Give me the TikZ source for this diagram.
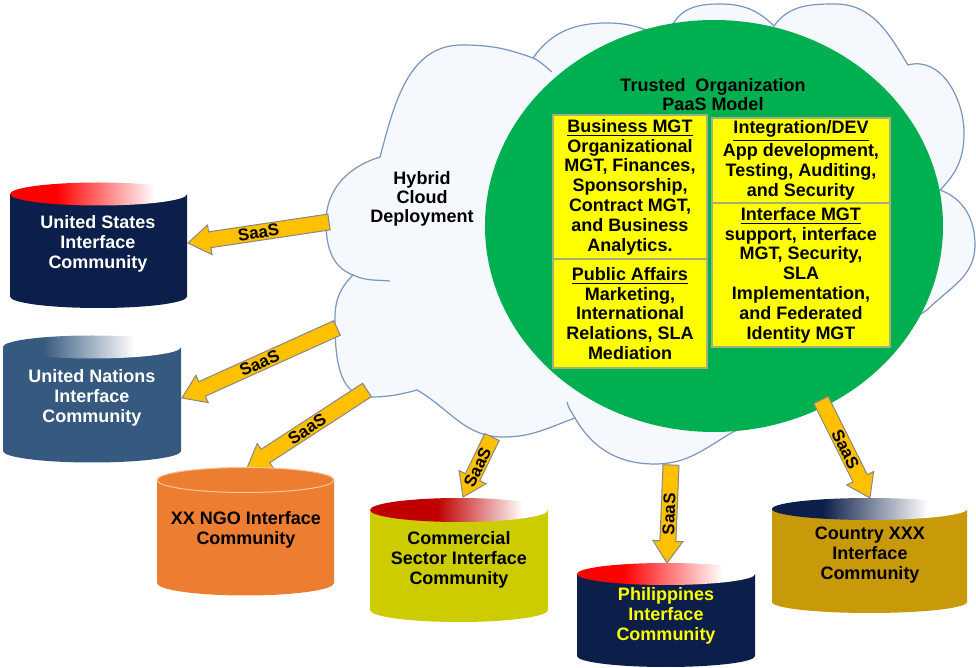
\documentclass[tikz,border=0pt]{standalone}
\usepackage{fontspec}
\setmainfont{Liberation Sans}
\usetikzlibrary{calc}
\definecolor{navyc}{RGB}{12,30,74}
\definecolor{unblue}{RGB}{54,89,127}
\definecolor{ngoor}{RGB}{237,125,49}
\definecolor{ngoedge}{RGB}{248,196,160}
\definecolor{comyel}{RGB}{204,204,0}
\definecolor{goldc}{RGB}{200,154,10}
\definecolor{pgreen}{RGB}{0,176,80}
\definecolor{boxyel}{RGB}{255,255,0}
\definecolor{boxedge}{RGB}{165,175,120}
\definecolor{arrfill}{RGB}{255,192,0}
\definecolor{arredge}{RGB}{135,135,135}
\definecolor{cloudfill}{RGB}{245,248,252}
\definecolor{cloudedge}{RGB}{120,150,190}
\definecolor{topred}{RGB}{255,0,0}
\definecolor{topdark}{RGB}{192,0,0}
\definecolor{philyel}{RGB}{255,255,0}

\pgfdeclarehorizontalshading{shRed}{100bp}{color(0bp)=(topred); color(38bp)=(topred); color(66bp)=(white); color(100bp)=(white)}
\pgfdeclarehorizontalshading{shUN}{100bp}{color(0bp)=(unblue); color(36bp)=(unblue); color(62bp)=(white); color(100bp)=(white)}
\pgfdeclarehorizontalshading{shCom}{100bp}{color(0bp)=(topdark); color(44bp)=(topdark); color(68bp)=(white); color(100bp)=(white)}
\pgfdeclarehorizontalshading{shNavy}{100bp}{color(0bp)=(navyc); color(38bp)=(navyc); color(65bp)=(white); color(100bp)=(white)}

\tikzset{
  lbl/.style={font=\bfseries\fontsize{9}{10}\selectfont, align=center, inner sep=0pt},
  ybox/.style={draw=boxedge, line width=0.6pt, fill=boxyel, inner sep=0pt, align=center,
               font=\bfseries\fontsize{9}{9.9}\selectfont},
  cloudline/.style={draw=cloudedge, line width=0.6pt},
  saasbody/.style={fill=arrfill, draw=arredge, line width=0.5pt, line join=miter},
  saaslbl/.style={font=\bfseries\fontsize{8.5}{9}\selectfont, inner sep=0pt, sloped, pos=0.5}
}

% cylinder: #1 cx, #2 top y, #3 bottom y, #4 x radius, #5 y radius, #6 body colour, #7 top options
\newcommand{\drum}[7]{%
  \path (#1,#2) coordinate (drT) (#1,#3) coordinate (drB);
  \fill[#6] ([xshift=-#4]drT) -- ([xshift=-#4]drB)
     arc[start angle=180,end angle=360,x radius=#4,y radius=#5] -- ([xshift=#4]drT) -- cycle;
  \path[#7] (drT) ellipse[x radius=#4, y radius=#5];
}
% block arrow: #1 tail coordinate, #2 tip coordinate, #3 name prefix
\newcommand{\saasarrow}[3]{%
  \path ($(#2)!11pt!(#1)$) coordinate (#3h);
  \draw[saasbody] ($(#1)!4pt!90:(#2)$) -- ($(#3h)!4pt!-90:(#1)$) -- ($(#3h)!7.5pt!-90:(#1)$)
     -- (#2) -- ($(#3h)!7.5pt!90:(#1)$) -- ($(#3h)!4pt!90:(#1)$) -- ($(#1)!4pt!-90:(#2)$) -- cycle;
  \path (#1) -- node[saaslbl] (#3l) {SaaS} (#2);
}

\begin{document}
\begin{tikzpicture}[x=0.5pt,y=-0.5pt]
\useasboundingbox (0,0) rectangle (976,668);
\fill[white] (0,0) rectangle (976,668);
\clip (0,0) rectangle (976,668);

% ---------- cloud ----------
\path[cloudline, fill=cloudfill]
 (353,275) to[out=160,in=270] (326,222) to[out=90,in=197] (380,157)
 to[out=75,in=180] (462,45) to[out=0,in=160] (533,58)
 to[out=55,in=180] (607,23) to[out=0,in=160] (655,33) -- (673,24)
 to[out=60,in=180] (720,4) to[out=0,in=135] (774,26)
 to[out=55,in=180] (835,4) to[out=0,in=121] (908,65)
 to[out=15,in=90] (964,133) to[out=270,in=45] (940,190)
 to[out=340,in=90] (975,245) to[out=270,in=45] (927,310)
 -- (880,340) -- (800,400) -- (733,432)
 to[out=210,in=0] (655,464) to[out=180,in=300] (575,418)
 to[out=200,in=0] (503,437) to[out=180,in=330] (417,390)
 to[out=195,in=0] (370,397) to[out=180,in=270] (335,318) to[out=90,in=225] (353,275) -- cycle;
\draw[cloudline] (353,275) to[out=335,in=175] (390,281);
\draw[cloudline] (533,58) to[out=335,in=141] (552,72);
\draw[cloudline] (575,418) to[out=117,in=281] (567,402);

\node[lbl, font=\bfseries\fontsize{9}{9.5}\selectfont] (hyb) at (422,199) {Hybrid\\Cloud\\Deployment};

% ---------- PaaS model ----------
\fill[pgreen] (714,226) ellipse[x radius=114.5pt, y radius=103pt];
\node[lbl, font=\bfseries\fontsize{9}{9.5}\selectfont] (title) at (713,94.5) {Trusted~ Organization\\PaaS Model};

\node[ybox, minimum width=77pt, minimum height=72pt] (bmgt) at (630,187)
  {\underline{Business MGT}\\Organizational\\MGT, Finances,\\Sponsorship,\\Contract MGT,\\and Business\\Analytics.};
\node[ybox, minimum width=77pt, minimum height=54.5pt] (pub) at (630,313.5)
  {\underline{Public Affairs}\\Marketing,\\International\\Relations, SLA\\Mediation};
\node[ybox, minimum width=89pt, minimum height=42.5pt] (integ) at (801,160.5)
  {\underline{Integration/DEV}\\App development,\\Testing, Auditing,\\and Security};
\node[ybox, minimum width=89pt, minimum height=72pt] (imgt) at (801,275)
  {\underline{Interface MGT}\\support, interface\\MGT, Security,\\SLA\\Implementation,\\and Federated\\Identity MGT};

% ---------- arrows ----------
\coordinate (a1t) at (329,222); \coordinate (a1p) at (188,243);
\coordinate (a2t) at (337,328); \coordinate (a2p) at (182,398);
\coordinate (a3t) at (367,390); \coordinate (a3p) at (247,468);
\coordinate (a4t) at (492,437); \coordinate (a4p) at (463,497);
\coordinate (a5t) at (671,465); \coordinate (a5p) at (667,563);
\coordinate (a6t) at (821,400); \coordinate (a6p) at (870,498);
\saasarrow{a1t}{a1p}{a1}
\saasarrow{a2t}{a2p}{a2}
\saasarrow{a3t}{a3p}{a3}
\saasarrow{a4t}{a4p}{a4}
\saasarrow{a5t}{a5p}{a5}
\saasarrow{a6t}{a6p}{a6}

% ---------- cylinders ----------
\drum{98.5}{194}{296.5}{44.25pt}{5.75pt}{navyc}{shading=shRed}
\node[lbl, text=white] (us) at (98,244) {United States\\Interface\\Community};

\drum{92}{347}{451}{44.5pt}{5.75pt}{unblue}{shading=shUN}
\node[lbl, text=white] (un) at (92,398) {United Nations\\Interface\\Community};

\drum{245.5}{480}{583}{44.25pt}{6.25pt}{ngoor}{fill=ngoor, draw=ngoedge, line width=0.5pt}
\node[lbl] (ngo) at (246,530) {XX NGO Interface\\Community};

\drum{459}{510}{610}{44.5pt}{6pt}{comyel}{shading=shCom}
\node[lbl] (com) at (459,560) {Commercial\\Sector Interface\\Community};

\drum{666}{574}{656}{44.5pt}{5.5pt}{navyc}{shading=shRed}
\node[lbl, text=philyel] (phil) at (666,616) {Philippines\\Interface\\Community};

\drum{869.5}{509}{602}{48.75pt}{5.5pt}{goldc}{shading=shNavy}
\node[lbl] (ctry) at (870,555) {Country XXX\\Interface\\Community};
\end{tikzpicture}
\end{document}
